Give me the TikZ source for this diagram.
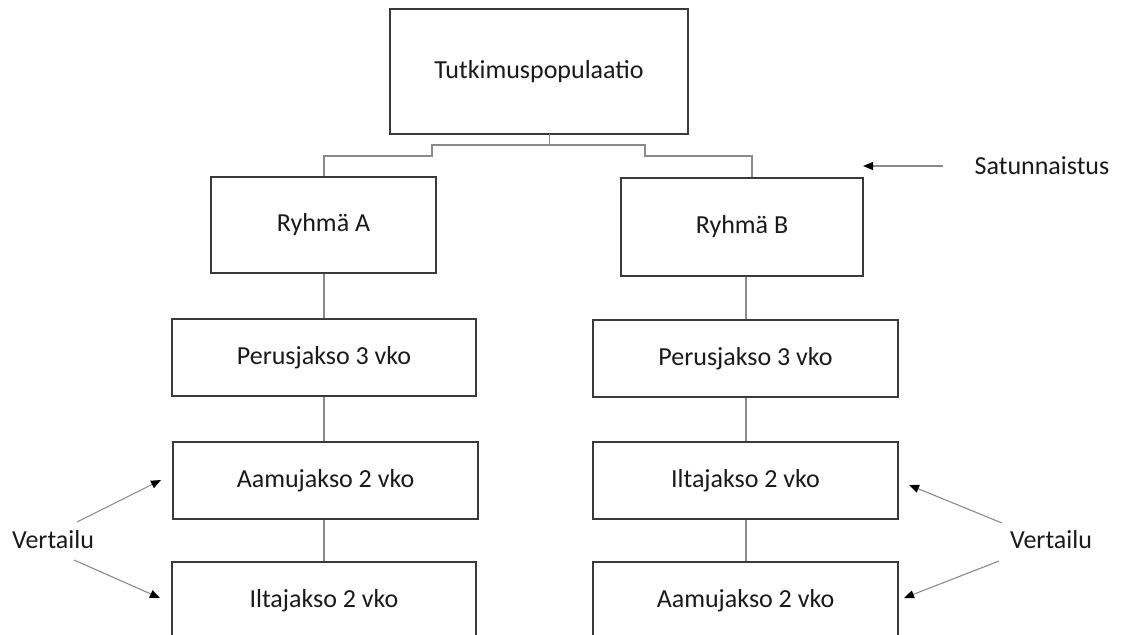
\documentclass[tikz,border=0pt]{standalone}
\usepackage{fontspec}
\setmainfont{Carlito}
\usetikzlibrary{arrows.meta}
\definecolor{boxline}{HTML}{3A3A3A}
\definecolor{connline}{HTML}{8A8A8A}
\definecolor{txt}{HTML}{1A1A1A}
\begin{document}
\begin{tikzpicture}[x=1pt,y=-1pt,
  box/.style={draw=boxline,line width=1.5pt,fill=white,rectangle,inner sep=0pt,
    font=\fontsize{26}{31}\selectfont,text=txt},
  conn/.style={draw=connline,line width=1.1pt},
  arr/.style={draw=connline,line width=1.1pt,-{Triangle[length=10pt,width=8pt,color=black]}},
  lbl/.style={font=\fontsize{26}{31}\selectfont,text=txt,inner sep=0pt}]
\useasboundingbox (0,0) rectangle (1123,634);
\clip (0,0) rectangle (1123,634);
% boxes
\node[box,minimum width=298pt,minimum height=125pt] (top) at (539,71.5) {Tutkimuspopulaatio};
\node[box,minimum width=225pt,minimum height=96pt] (ra) at (323.5,225) {Ryhmä A};
\node[box,minimum width=242pt,minimum height=98pt] (rb) at (742,227) {Ryhmä B};
\node[box,minimum width=304pt,minimum height=77pt] (pa) at (324,357.5) {Perusjakso 3 vko};
\node[box,minimum width=305pt,minimum height=77pt] (pb) at (745.5,358.5) {Perusjakso 3 vko};
\node[box,minimum width=305pt,minimum height=77pt] (aa) at (325.5,480.5) {Aamujakso 2 vko};
\node[box,minimum width=305pt,minimum height=77pt] (ib) at (745.5,480.5) {Iltajakso 2 vko};
\node[box,minimum width=304pt,minimum height=77pt] (ia) at (324,600.5) {Iltajakso 2 vko};
\node[box,minimum width=305pt,minimum height=77pt] (ab) at (745.5,600.5) {Aamujakso 2 vko};
% labels
\node[lbl] (sat) at (1042,166) {Satunnaistus};
\node[lbl] (vl) at (53,540) {Vertailu};
\node[lbl] (vr) at (1051,540) {Vertailu};
% bracket connector
\coordinate (t0) at (549.5,134);
\coordinate (jl) at (432,145);
\coordinate (jr) at (645,145);
\coordinate (al) at (324,156);
\coordinate (ar) at (752,156);
\draw[conn] (t0) |- (jl) |- (al) -- (ra.north -| al);
\draw[conn] (t0) |- (jr) |- (ar) -- (rb.north -| ar);
% vertical connectors
\coordinate (xa) at (324,0);
\coordinate (xb) at (746,0);
\draw[conn] (ra.south -| xa) -- (pa.north -| xa);
\draw[conn] (pa.south -| xa) -- (aa.north -| xa);
\draw[conn] (aa.south -| xa) -- (ia.north -| xa);
\draw[conn] (rb.south -| xb) -- (pb.north -| xb);
\draw[conn] (pb.south -| xb) -- (ib.north -| xb);
\draw[conn] (ib.south -| xb) -- (ab.north -| xb);
% arrows
\coordinate (s1) at (943,166);
\coordinate (s2) at (863,166);
\draw[arr] (s1) -- (s2);
\coordinate (l1) at (77,522);
\coordinate (l1e) at (161,480);
\coordinate (l2) at (74,560);
\coordinate (l2e) at (160,598);
\draw[arr] (l1) -- (l1e);
\draw[arr] (l2) -- (l2e);
\coordinate (r1) at (1002,523);
\coordinate (r1e) at (909,485);
\coordinate (r2) at (999,561);
\coordinate (r2e) at (904,598);
\draw[arr] (r1) -- (r1e);
\draw[arr] (r2) -- (r2e);
\end{tikzpicture}
\end{document}
